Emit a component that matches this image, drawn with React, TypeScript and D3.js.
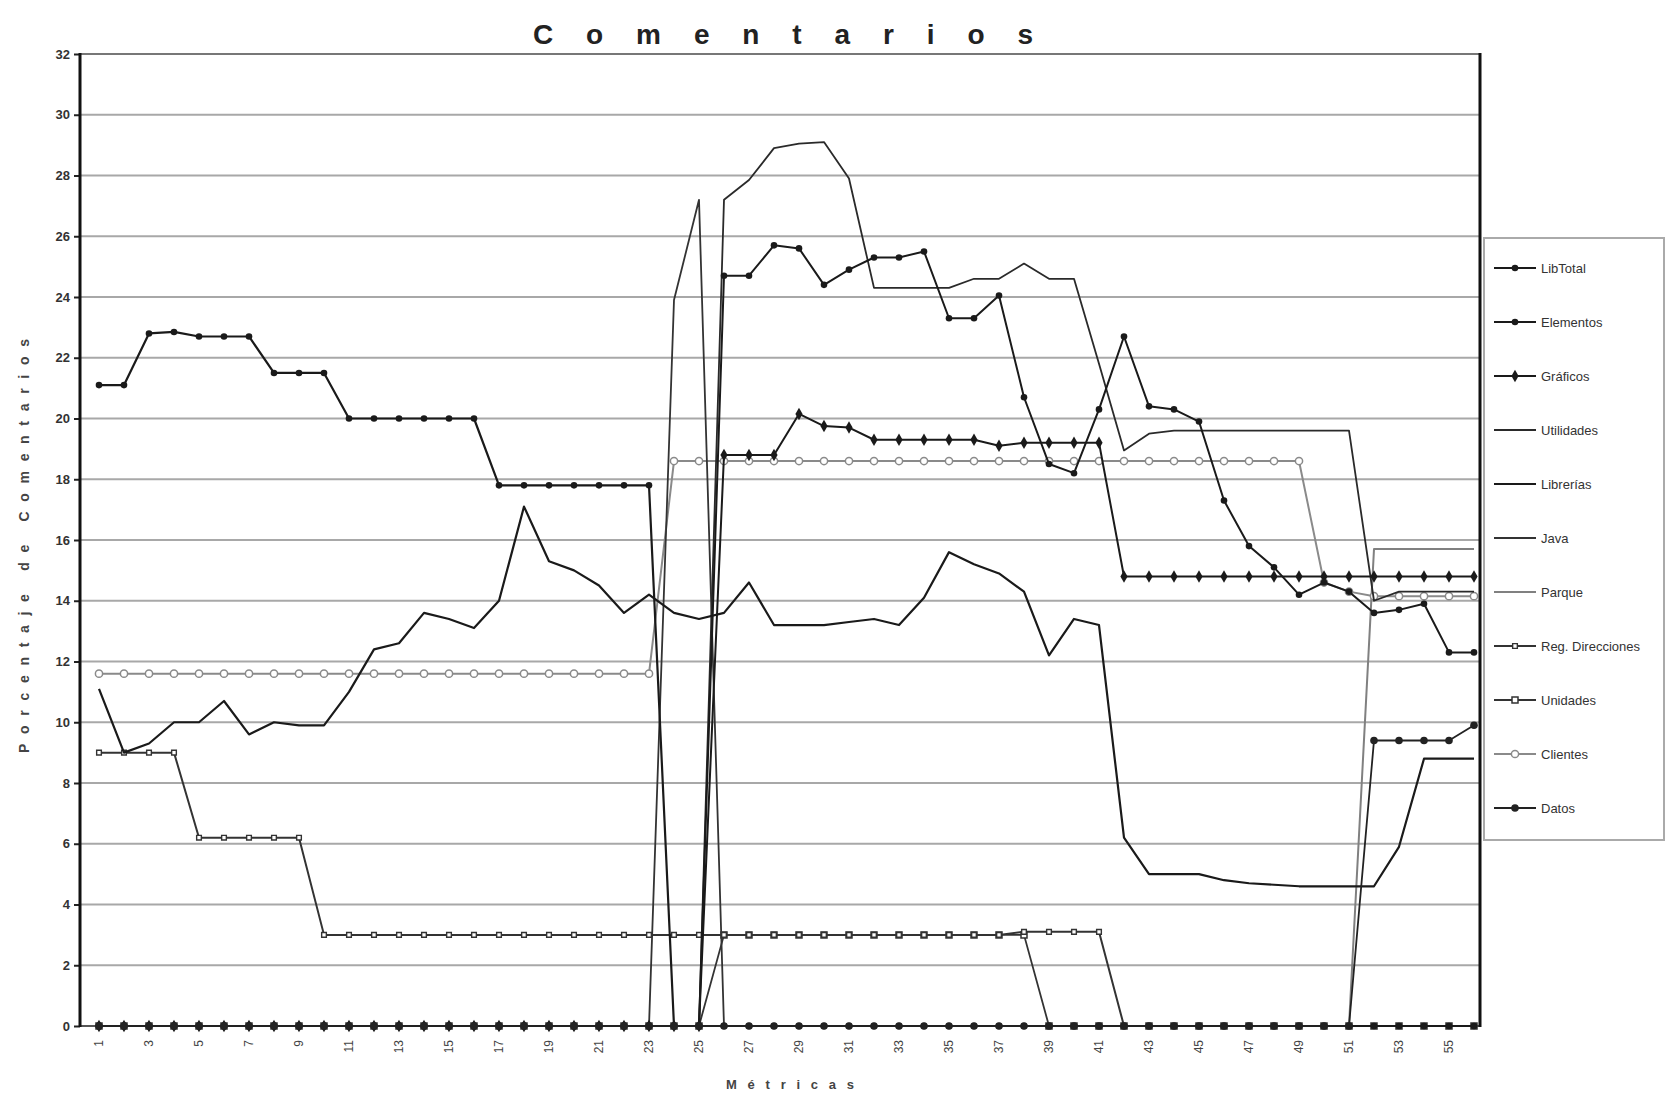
import { useEffect, useRef } from "react";
import * as d3 from "d3";

// Métricas 1..56 (x categories)
const metricas = [
  1, 2, 3, 4, 5, 6, 7, 8, 9, 10, 11, 12, 13, 14, 15, 16, 17, 18, 19, 20,
  21, 22, 23, 24, 25, 26, 27, 28, 29, 30, 31, 32, 33, 34, 35, 36, 37, 38, 39, 40,
  41, 42, 43, 44, 45, 46, 47, 48, 49, 50, 51, 52, 53, 54, 55, 56,
];
const xTickLabels = [1, 3, 5, 7, 9, 11, 13, 15, 17, 19, 21, 23, 25, 27, 29, 31, 33, 35, 37, 39, 41, 43, 45, 47, 49, 51, 53, 55];
const yTicks = [0, 2, 4, 6, 8, 10, 12, 14, 16, 18, 20, 22, 24, 26, 28, 30, 32];

const legendNames = [
  "LibTotal", "Elementos", "Gráficos", "Utilidades", "Librerías", "Java",
  "Parque", "Reg. Direcciones", "Unidades", "Clientes", "Datos",
];

// % de comentarios por métrica
const libTotal = [
  0, 0, 0, 0, 0, 0, 0, 0, 0, 0,
  0, 0, 0, 0, 0, 0, 0, 0, 0, 0,
  0, 0, 0, 0, 0, 24.7, 24.7, 25.7, 25.6, 24.4,
  24.9, 25.3, 25.3, 25.5, 23.3, 23.3, 24.05, 20.7, 18.5, 18.2,
  20.3, 22.7, 20.4, 20.3, 19.9, 17.3, 15.8, 15.1, 14.2, 14.6,
  14.3, 13.6, 13.7, 13.9, 12.3, 12.3,
];
const elementos = [
  21.1, 21.1, 22.8, 22.85, 22.7, 22.7, 22.7, 21.5, 21.5, 21.5,
  20.0, 20.0, 20.0, 20.0, 20.0, 20.0, 17.8, 17.8, 17.8, 17.8,
  17.8, 17.8, 17.8, 0, 0, 0, 0, 0, 0, 0,
  0, 0, 0, 0, 0, 0, 0, 0, 0, 0,
  0, 0, 0, 0, 0, 0, 0, 0, 0, 0,
  0, 0, 0, 0, 0, 0,
];
const graficos = [
  0, 0, 0, 0, 0, 0, 0, 0, 0, 0,
  0, 0, 0, 0, 0, 0, 0, 0, 0, 0,
  0, 0, 0, 0, 0, 18.8, 18.8, 18.8, 20.15, 19.75,
  19.7, 19.3, 19.3, 19.3, 19.3, 19.3, 19.1, 19.2, 19.2, 19.2,
  19.2, 14.8, 14.8, 14.8, 14.8, 14.8, 14.8, 14.8, 14.8, 14.8,
  14.8, 14.8, 14.8, 14.8, 14.8, 14.8,
];
const utilidades = [
  0, 0, 0, 0, 0, 0, 0, 0, 0, 0,
  0, 0, 0, 0, 0, 0, 0, 0, 0, 0,
  0, 0, 0, 0, 0, 27.2, 27.85, 28.9, 29.05, 29.1,
  27.9, 24.3, 24.3, 24.3, 24.3, 24.6, 24.6, 25.1, 24.6, 24.6,
  21.8, 18.95, 19.5, 19.6, 19.6, 19.6, 19.6, 19.6, 19.6, 19.6,
  19.6, 14.0, 14.3, 14.3, 14.3, 14.3,
];
const librerias = [
  11.1, 9.0, 9.3, 10.0, 10.0, 10.7, 9.6, 10.0, 9.9, 9.9,
  11.0, 12.4, 12.6, 13.6, 13.4, 13.1, 14.0, 17.1, 15.3, 15.0,
  14.5, 13.6, 14.2, 13.6, 13.4, 13.6, 14.6, 13.2, 13.2, 13.2,
  13.3, 13.4, 13.2, 14.1, 15.6, 15.2, 14.9, 14.3, 12.2, 13.4,
  13.2, 6.2, 5.0, 5.0, 5.0, 4.8, 4.7, 4.65, 4.6, 4.6,
  4.6, 4.6, 5.9, 8.8, 8.8, 8.8,
];
const java = [
  0, 0, 0, 0, 0, 0, 0, 0, 0, 0,
  0, 0, 0, 0, 0, 0, 0, 0, 0, 0,
  0, 0, 0, 23.9, 27.2, 0, 0, 0, 0, 0,
  0, 0, 0, 0, 0, 0, 0, 0, 0, 0,
  0, 0, 0, 0, 0, 0, 0, 0, 0, 0,
  0, 0, 0, 0, 0, 0,
];
const parque = [
  0, 0, 0, 0, 0, 0, 0, 0, 0, 0,
  0, 0, 0, 0, 0, 0, 0, 0, 0, 0,
  0, 0, 0, 0, 0, 0, 0, 0, 0, 0,
  0, 0, 0, 0, 0, 0, 0, 0, 0, 0,
  0, 0, 0, 0, 0, 0, 0, 0, 0, 0,
  0, 15.7, 15.7, 15.7, 15.7, 15.7,
];
const regDirecciones = [
  9.0, 9.0, 9.0, 9.0, 6.2, 6.2, 6.2, 6.2, 6.2, 3.0,
  3.0, 3.0, 3.0, 3.0, 3.0, 3.0, 3.0, 3.0, 3.0, 3.0,
  3.0, 3.0, 3.0, 3.0, 3.0, 3.0, 3.0, 3.0, 3.0, 3.0,
  3.0, 3.0, 3.0, 3.0, 3.0, 3.0, 3.0, 3.1, 3.1, 3.1,
  3.1, 0, 0, 0, 0, 0, 0, 0, 0, 0,
  0, 0, 0, 0, 0, 0,
];
const unidades = [
  0, 0, 0, 0, 0, 0, 0, 0, 0, 0,
  0, 0, 0, 0, 0, 0, 0, 0, 0, 0,
  0, 0, 0, 0, 0, 3.0, 3.0, 3.0, 3.0, 3.0,
  3.0, 3.0, 3.0, 3.0, 3.0, 3.0, 3.0, 3.0, 0, 0,
  0, 0, 0, 0, 0, 0, 0, 0, 0, 0,
  0, 0, 0, 0, 0, 0,
];
const clientes = [
  11.6, 11.6, 11.6, 11.6, 11.6, 11.6, 11.6, 11.6, 11.6, 11.6,
  11.6, 11.6, 11.6, 11.6, 11.6, 11.6, 11.6, 11.6, 11.6, 11.6,
  11.6, 11.6, 11.6, 18.6, 18.6, 18.6, 18.6, 18.6, 18.6, 18.6,
  18.6, 18.6, 18.6, 18.6, 18.6, 18.6, 18.6, 18.6, 18.6, 18.6,
  18.6, 18.6, 18.6, 18.6, 18.6, 18.6, 18.6, 18.6, 18.6, 14.6,
  14.3, 14.15, 14.15, 14.15, 14.15, 14.15,
];
const datos = [
  0, 0, 0, 0, 0, 0, 0, 0, 0, 0,
  0, 0, 0, 0, 0, 0, 0, 0, 0, 0,
  0, 0, 0, 0, 0, 0, 0, 0, 0, 0,
  0, 0, 0, 0, 0, 0, 0, 0, 0, 0,
  0, 0, 0, 0, 0, 0, 0, 0, 0, 0,
  0, 9.4, 9.4, 9.4, 9.4, 9.9,
];

export default function App() {
  const ref = useRef<SVGSVGElement>(null);

  useEffect(() => {
    const width = 1675;
    const height = 1096;
    const plotLeft = 80;
    const plotRight = 1480;
    const font = "'Liberation Sans', Arial, sans-serif";

    const svg = d3.select(ref.current);
    svg.selectAll("*").remove();
    svg.attr("width", width).attr("height", height).attr("viewBox", [0, 0, width, height]);

    svg.append("rect").attr("width", width).attr("height", height).attr("fill", "#fff");

    const x = d3.scalePoint<number>().domain(metricas).range([99, 1474]);
    const y = d3.scaleLinear([0, 32], [1026, 54]);

    // gridlines
    svg.append("g")
      .selectAll("line")
      .data(yTicks.filter(d => d > 0 && d < 32))
      .join("line")
      .attr("x1", plotLeft).attr("x2", plotRight)
      .attr("y1", d => y(d)).attr("y2", d => y(d))
      .attr("stroke", "#a8a8a8").attr("stroke-width", 2);

    // frame
    svg.append("line").attr("x1", plotLeft).attr("x2", plotRight).attr("y1", y(32)).attr("y2", y(32))
      .attr("stroke", "#777").attr("stroke-width", 2);
    svg.append("line").attr("x1", plotLeft).attr("x2", plotRight).attr("y1", y(0)).attr("y2", y(0))
      .attr("stroke", "#555").attr("stroke-width", 2);

    // y axis
    svg.append("g")
      .attr("transform", `translate(${plotLeft},0)`)
      .call(d3.axisLeft(y).tickValues(yTicks).tickSize(6).tickPadding(4).tickFormat(d3.format("d")))
      .call(g => g.select(".domain").remove())
      .call(g => g.selectAll(".tick line").attr("stroke", "#222").attr("stroke-width", 2))
      .call(g => g.selectAll(".tick text")
        .attr("font-family", font).attr("font-size", 13).attr("font-weight", "bold").attr("fill", "#333"));

    // x tick labels (rotated)
    svg.append("g")
      .selectAll("text")
      .data(xTickLabels)
      .join("text")
      .attr("transform", d => `translate(${x(d)},1040) rotate(-90)`)
      .attr("text-anchor", "end")
      .attr("dy", "0.35em")
      .attr("font-family", font).attr("font-size", 12).attr("fill", "#444")
      .text(d => d);

    const series = [
      { name: legendNames[6], values: parque, color: "#808080", width: 2, marker: "none" },
      { name: legendNames[9], values: clientes, color: "#8a8a8a", width: 2, marker: "openCircle" },
      { name: legendNames[5], values: java, color: "#333", width: 1.8, marker: "none" },
      { name: legendNames[8], values: unidades, color: "#333", width: 1.8, marker: "openSquare" },
      { name: legendNames[7], values: regDirecciones, color: "#333", width: 2, marker: "openSmall" },
      { name: legendNames[3], values: utilidades, color: "#2a2a2a", width: 1.8, marker: "none" },
      { name: legendNames[4], values: librerias, color: "#1a1a1a", width: 2.2, marker: "none" },
      { name: legendNames[2], values: graficos, color: "#1a1a1a", width: 2, marker: "diamond" },
      { name: legendNames[0], values: libTotal, color: "#1a1a1a", width: 2, marker: "dot" },
      { name: legendNames[1], values: elementos, color: "#1a1a1a", width: 2.2, marker: "dot" },
      { name: legendNames[10], values: datos, color: "#222", width: 1.8, marker: "bigDot" },
    ];

    function drawMarker(g: any, type: string, cx: number, cy: number, color: string) {
      if (type === "dot") {
        g.append("circle").attr("cx", cx).attr("cy", cy).attr("r", 3.3).attr("fill", color);
      } else if (type === "bigDot") {
        g.append("circle").attr("cx", cx).attr("cy", cy).attr("r", 3.8).attr("fill", color);
      } else if (type === "diamond") {
        g.append("path").attr("transform", `translate(${cx},${cy})`)
          .attr("d", d3.symbol(d3.symbolDiamond, 45)()).attr("fill", color);
      } else if (type === "openSquare") {
        g.append("path").attr("transform", `translate(${cx},${cy})`)
          .attr("d", d3.symbol(d3.symbolSquare, 36)()).attr("fill", "#fff").attr("stroke", color).attr("stroke-width", 1.5);
      } else if (type === "openCircle") {
        g.append("circle").attr("cx", cx).attr("cy", cy).attr("r", 3.6)
          .attr("fill", "#fff").attr("stroke", color).attr("stroke-width", 1.5);
      } else if (type === "openSmall") {
        g.append("path").attr("transform", `translate(${cx},${cy})`)
          .attr("d", d3.symbol(d3.symbolSquare, 22)()).attr("fill", "#fff").attr("stroke", color).attr("stroke-width", 1.4);
      }
    }

    const line = d3.line<number>()
      .x((_, i) => x(metricas[i]) as number)
      .y(d => y(d));

    const plot = svg.append("g");
    series.forEach(s => {
      const g = plot.append("g");
      g.append("path")
        .attr("fill", "none")
        .attr("stroke", s.color)
        .attr("stroke-width", s.width)
        .attr("stroke-linejoin", "round")
        .attr("d", line(s.values));
      if (s.marker !== "none") {
        s.values.forEach((v, i) => drawMarker(g, s.marker, x(metricas[i]) as number, y(v), s.color));
      }
    });

    // plot left and right borders (drawn over lines)
    svg.append("line").attr("x1", plotLeft).attr("x2", plotLeft).attr("y1", y(32) - 1).attr("y2", y(0) + 1)
      .attr("stroke", "#111").attr("stroke-width", 3);
    svg.append("line").attr("x1", plotRight).attr("x2", plotRight).attr("y1", y(32) - 1).attr("y2", y(0) + 1)
      .attr("stroke", "#111").attr("stroke-width", 3);

    // title
    svg.append("text")
      .attr("x", 783).attr("y", 44)
      .attr("text-anchor", "middle")
      .attr("font-family", font).attr("font-size", 28).attr("font-weight", "bold").attr("fill", "#222")
      .attr("textLength", 500).attr("lengthAdjust", "spacing")
      .text("Comentarios");

    // axis titles
    svg.append("text")
      .attr("transform", "translate(29,546) rotate(-90)")
      .attr("text-anchor", "middle")
      .attr("font-family", font).attr("font-size", 14).attr("font-weight", "bold").attr("fill", "#444")
      .attr("textLength", 414).attr("lengthAdjust", "spacing")
      .text("Porcentaje de Comentarios");

    svg.append("text")
      .attr("x", 790).attr("y", 1089)
      .attr("text-anchor", "middle")
      .attr("font-family", font).attr("font-size", 13).attr("font-weight", "bold").attr("fill", "#444")
      .attr("textLength", 128).attr("lengthAdjust", "spacing")
      .text("Métricas");

    // legend
    const legend = svg.append("g");
    legend.append("rect")
      .attr("x", 1484).attr("y", 238).attr("width", 180).attr("height", 602)
      .attr("fill", "#fff").attr("stroke", "#aaa").attr("stroke-width", 2);
    const legendStyle = legendNames.map(n => series.find(s => s.name === n)!);
    const ly = d3.scalePoint<number>().domain(d3.range(legendNames.length)).range([268, 808]);
    legendStyle.forEach((s, i) => {
      const g = legend.append("g");
      const yy = ly(i) as number;
      g.append("line").attr("x1", 1494).attr("x2", 1536).attr("y1", yy).attr("y2", yy)
        .attr("stroke", s.color).attr("stroke-width", s.width);
      if (s.marker !== "none") drawMarker(g, s.marker, 1515, yy, s.color);
      g.append("text")
        .attr("x", 1541).attr("y", yy).attr("dy", "0.35em")
        .attr("font-family", font).attr("font-size", 13).attr("fill", "#333")
        .text(s.name);
    });
  }, []);

  return <svg ref={ref} style={{ position: "absolute", left: 0, top: 0 }}></svg>;
}
